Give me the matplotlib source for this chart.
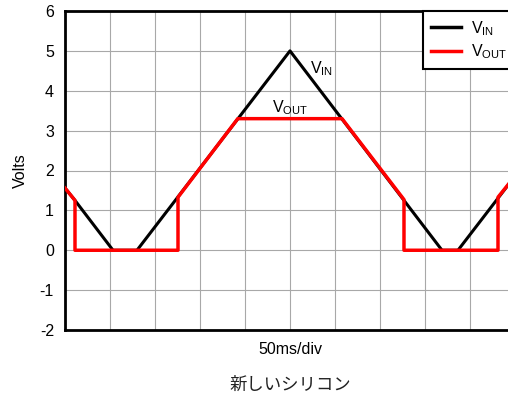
# V_IN triangle vs clipped V_OUT, 50ms/div scope style

import matplotlib
matplotlib.use('Agg')
import matplotlib.pyplot as plt

plt.rcParams['font.family'] = ['Liberation Sans', 'DejaVu Sans']
plt.rcParams['mathtext.fontset'] = 'custom'
plt.rcParams['mathtext.rm'] = 'Liberation Sans'
plt.rcParams['axes.unicode_minus'] = False

# data (x in divisions)
vin_x = [0.0, 0.222, 1.067, 1.6, 5.0, 8.378, 8.733, 10.0]
vin_y = [1.56, 1.25, 0.0, 0.0, 5.0, 0.0, 0.0, 1.86]
vout_x = [0.0, 0.222, 0.222, 2.511, 2.511, 3.84, 6.156, 7.533, 7.533, 9.622, 9.622, 10.0]
vout_y = [1.56, 1.25, 0.0, 0.0, 1.33, 3.3, 3.3, 1.27, 0.0, 0.0, 1.33, 1.86]
y_ticks = [-2, -1, 0, 1, 2, 3, 4, 5, 6]

fontsize = 11.5

fig = plt.figure(figsize=(5.08, 4.0), dpi=100)
W, H = 508.0, 400.0
ax = fig.add_axes([65 / W, 70 / H, 450 / W, 319 / H])

ax.set_xlim(0, 10)
ax.set_ylim(-2, 6)
ax.set_xticks(range(0, 11))
ax.set_yticks(y_ticks)
ax.set_xticklabels([])
ax.grid(True, color='#a8a8a8', linewidth=0.8)
ax.set_axisbelow(True)
ax.tick_params(axis='both', length=0, labelsize=fontsize)
ax.tick_params(axis='y', pad=8)

for side in ['left', 'top', 'bottom']:
    ax.spines[side].set_linewidth(2)
    ax.spines[side].set_color('black')
ax.spines['right'].set_visible(False)

ax.plot(vin_x, vin_y, color='black', linewidth=2.2, label=r'$\mathrm{V_{IN}}$', zorder=3)
ax.plot(vout_x, vout_y, color='#ff0000', linewidth=2.5, label=r'$\mathrm{V_{OUT}}$', zorder=4)

ax.text(5.45, 4.45, r'$\mathrm{V_{IN}}$', fontsize=fontsize, zorder=5)
ax.text(4.6, 3.45, r'$\mathrm{V_{OUT}}$', fontsize=fontsize, zorder=5)

ax.set_xlabel('50ms/div', fontsize=fontsize, labelpad=5)
ax.set_ylabel('Volts', fontsize=fontsize)
ax.yaxis.set_label_coords(-0.082, 0.5)

leg = ax.legend(loc='upper left', bbox_to_anchor=(423 / W, 389 / H),
                bbox_transform=fig.transFigure, fontsize=fontsize,
                frameon=True, fancybox=False, framealpha=1,
                handlelength=1.9, handletextpad=0.6, borderpad=0.5,
                labelspacing=0.3, borderaxespad=0)
leg.get_frame().set_edgecolor('black')
leg.get_frame().set_linewidth(1.5)
for line in leg.get_lines():
    line.set_linewidth(2.5)

fig.text(290 / W, 15 / H, '新しいシリコン', ha='center', va='center',
         fontsize=12.5, family=['Noto Sans CJK JP', 'DejaVu Sans'], color='#222222')

plt.savefig('out.png', dpi=100)
